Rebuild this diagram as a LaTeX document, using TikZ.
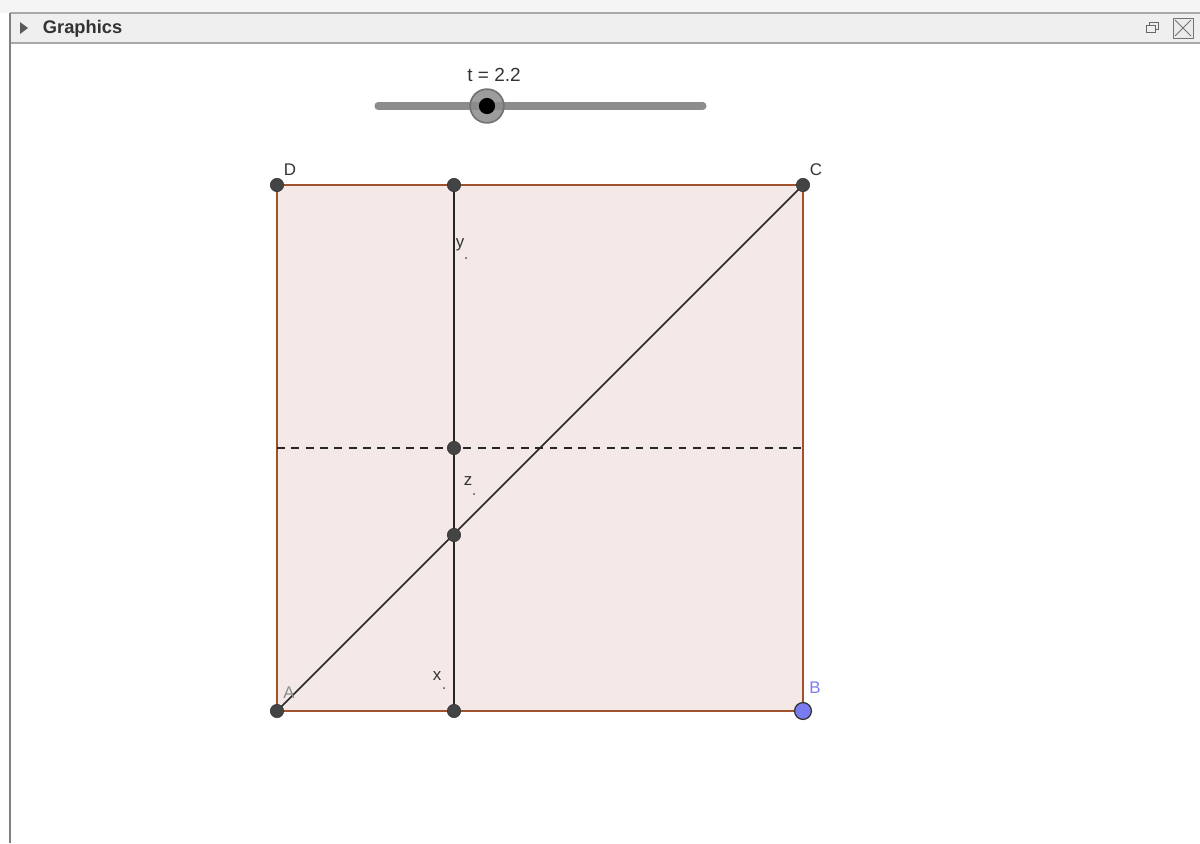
\documentclass[tikz,border=0pt]{standalone}
\usepackage{fontspec}
\setmainfont{Liberation Sans}
\usepackage{tikz}
\usetikzlibrary{positioning,arrows.meta,calc}
\definecolor{ggfill}{HTML}{F4E9E6}
\definecolor{ggedge}{HTML}{A0522D}
\definecolor{ggpoint}{HTML}{444444}
\definecolor{ggblue}{HTML}{7B7BF0}
\definecolor{ggtext}{HTML}{333333}
\definecolor{hdrbg}{HTML}{EFEFEF}
\definecolor{hdrline}{HTML}{A8A8A8}
\tikzset{
  dot/.style={circle, draw=black!80, fill=ggpoint, inner sep=0pt, minimum size=9.5pt},
  bluedot/.style={circle, draw=black!80, line width=0.9pt, fill=ggblue, inner sep=0pt, minimum size=12pt},
  ptlabel/.style={text=ggtext, inner sep=0pt, font=\fontsize{12}{14}\selectfont},
  tinydot/.style={circle, fill=ggtext, inner sep=0pt, minimum size=1.4pt},
  segline/.style={line width=1.1pt, draw=black!85},
  edgeline/.style={line width=1.2pt, draw=ggedge},
  sliderbar/.style={line width=5pt, draw=black!45, line cap=round}
}
\begin{document}
\begin{tikzpicture}[x=0.025cm, y=-0.025cm]
  \useasboundingbox (0,0) rectangle (1200,843);
  % window frame
  \fill[black!4] (0,0) rectangle (1200,13);
  \fill[hdrbg] (10,13) rectangle (1200,43);
  \draw[hdrline, line width=0.8pt] (10,13) -- (1200,13);
  \draw[hdrline, line width=0.8pt] (10,43) -- (1200,43);
  \draw[black!50, line width=1.4pt] (10,13) -- (10,843);
  \fill[black!65] (20,22) -- (28,28) -- (20,34) -- cycle;
  \node[anchor=west, text=ggtext, font=\fontsize{13}{15}\selectfont\bfseries] (title) at (38,29) {Graphics};
  \draw[black!60, line width=0.6pt] (1146,25) rectangle (1155,32);
  \draw[black!60, line width=0.6pt] (1149,25) -- (1149,22) -- (1158,22) -- (1158,29) -- (1155,29);
  \draw[black!55, fill=black!8, line width=0.6pt] (1173,18) rectangle (1193,38);
  \draw[black!55, line width=0.7pt] (1175,20) -- (1191,36) (1191,20) -- (1175,36);

  % slider
  \coordinate (sl) at (378,106);
  \coordinate (sr) at (703,106);
  \draw[sliderbar] (sl) -- (sr);
  \node[circle, fill=black!45, draw=black!55, line width=1.2pt, fill opacity=0.85, inner sep=0pt, minimum size=24pt] (knob) at (487,106) {};
  \node[circle, fill=black, inner sep=0pt, minimum size=11.5pt] at (knob) {};
  \node[ptlabel, font=\fontsize{13.5}{15}\selectfont] (tval) at (494,75) {t = 2.2};

  % square
  \coordinate (A) at (277,711);
  \coordinate (B) at (803,711);
  \coordinate (C) at (803,185);
  \coordinate (D) at (277,185);
  \fill[ggfill] (A) -- (B) -- (C) -- (D) -- cycle;
  \draw[edgeline] (A) -- (B) -- (C) -- (D) -- cycle;

  % inner points
  \coordinate (Ptop) at (454,185);
  \coordinate (Pmid) at (454,448);
  \coordinate (Pz) at (454,535);
  \coordinate (Pbot) at (454,711);
  \coordinate (Lmid) at (277,448);
  \coordinate (Rmid) at (803,448);
  \draw[segline, line width=0.9pt, dash pattern=on 5.6pt off 4.6pt] (Lmid) -- (Rmid);
  \draw[segline] (Ptop) -- (Pbot);
  \draw[segline] (A) -- (C);

  \node[dot] (nA) at (A) {};
  \node[dot] (nC) at (C) {};
  \node[dot] (nD) at (D) {};
  \node[dot] (nTop) at (Ptop) {};
  \node[dot] (nMid) at (Pmid) {};
  \node[dot] (nZ) at (Pz) {};
  \node[dot] (nBot) at (Pbot) {};
  \node[bluedot] (nB) at (B) {};

  % labels
  \node[ptlabel] (lD) at (290,170) {D};
  \node[ptlabel] (lC) at (816,170) {C};
  \node[ptlabel, text=black!45] (lA) at (289,693) {A};
  \node[ptlabel, text=ggblue] (lB) at (815,688) {B};
  \node[ptlabel] (lx) at (437,676) {x};
  \node[ptlabel] (ly) at (460,245) {y};
  \node[ptlabel] (lz) at (468,481) {z};
  \node[tinydot] at (444,688) {};
  \node[tinydot] at (466,258) {};
  \node[tinydot] at (474,494) {};
\end{tikzpicture}
\end{document}
